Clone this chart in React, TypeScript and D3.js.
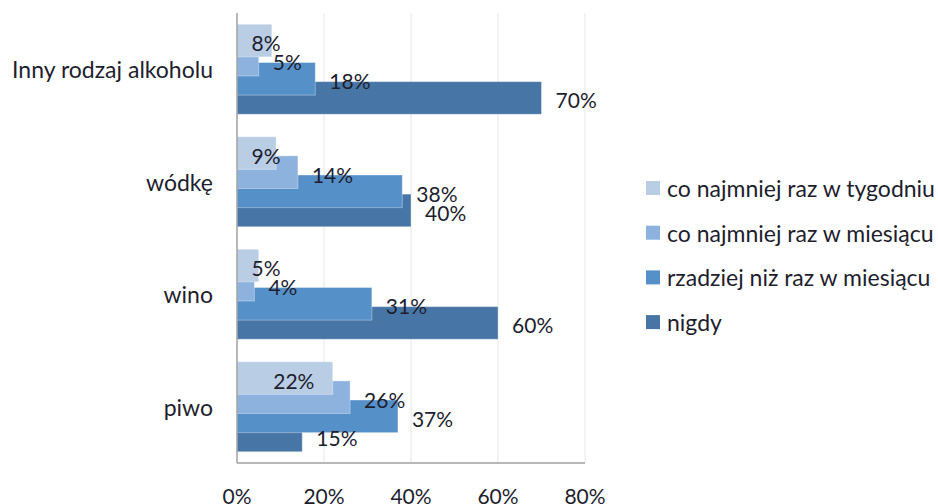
import * as d3 from 'd3'
import React from 'react'

const categories = ['Inny rodzaj alkoholu', 'wódkę', 'wino', 'piwo']
const seriesNames = ['co najmniej raz w tygodniu', 'co najmniej raz w miesiącu', 'rzadziej niż raz w miesiącu', 'nigdy']
const weekly = [8, 9, 5, 22]
const monthly = [5, 14, 4, 26]
const rarely = [18, 38, 31, 37]
const never = [70, 40, 60, 15]
const xTicks = [0, 20, 40, 60, 80]

const seriesValues = [weekly, monthly, rarely, never]
const colors = ['#b9cde5', '#8db2de', '#5690c9', '#4776a6']

const
  W = 938,
  H = 504,
  font = 'Lato, "Open Sans", sans-serif',
  textColor = '#1e1e2e'

export default function App() {
  const
    x = d3.scaleLinear().domain([0, 80]).range([237, 585]),
    y = d3.scaleBand<string>().domain(categories).range([13, 463]),
    band = y.bandwidth(),
    barH = band * 0.29,
    step = band * 0.17,
    barTop = (c: string, i: number) => y(c)! + band / 2 - (3 * step + barH) / 2 + i * step,
    order = d3.range(seriesNames.length).reverse()

  return (
    <svg width={W} height={H} style={{ position: 'absolute', left: 0, top: 0, background: '#fff' }} fontFamily={font}>
      {xTicks.slice(1).map(t =>
        <line key={t} x1={x(t)} x2={x(t)} y1={13} y2={463} stroke='#e6e6e6' strokeWidth={1} />
      )}
      {order.map(i => categories.map((c, j) => {
        const v = seriesValues[i][j]
        return <rect key={`${i}-${j}`} x={x(0)} y={barTop(c, i)} width={x(v) - x(0)} height={barH}
          fill={colors[i]} stroke='#ffffff' strokeOpacity={0.35} strokeWidth={1} />
      }))}
      <line x1={x(0)} x2={x(0)} y1={13} y2={463} stroke='#a0a0a0' strokeWidth={1.5} />
      <line x1={x(0)} x2={x(80)} y1={463} y2={463} stroke='#a0a0a0' strokeWidth={1.5} />
      {seriesNames.map((_, i) => categories.map((c, j) => {
        const
          v = seriesValues[i][j],
          cy = barTop(c, i) + barH / 2 + 2,
          first = i === 0,
          lx = first ? Math.max((x(0) + x(v)) / 2 + 9, x(0) + 29) : x(v) + 14
        return <text key={`l${i}-${j}`} x={lx} y={cy} dominantBaseline='central'
          textAnchor={first ? 'middle' : 'start'} fontSize={21} fill={textColor}>{v}%</text>
      }))}
      {categories.map(c =>
        <text key={c} x={213} y={y(c)! + band / 2} textAnchor='end' dominantBaseline='central'
          fontSize={23} fill={textColor}>{c}</text>
      )}
      {xTicks.map(t =>
        <text key={t} x={x(t)} y={495} textAnchor='middle' dominantBaseline='central'
          fontSize={21} fill={textColor}>{t}%</text>
      )}
      {seriesNames.map((s, i) => {
        const cy = 188 + i * 44.7
        return (
          <g key={s}>
            <rect x={646} y={cy - 7} width={14} height={14} fill={colors[i]} />
            <text x={667} y={cy} dominantBaseline='central' fontSize={23} fill={textColor}>{s}</text>
          </g>
        )
      })}
    </svg>
  )
}
